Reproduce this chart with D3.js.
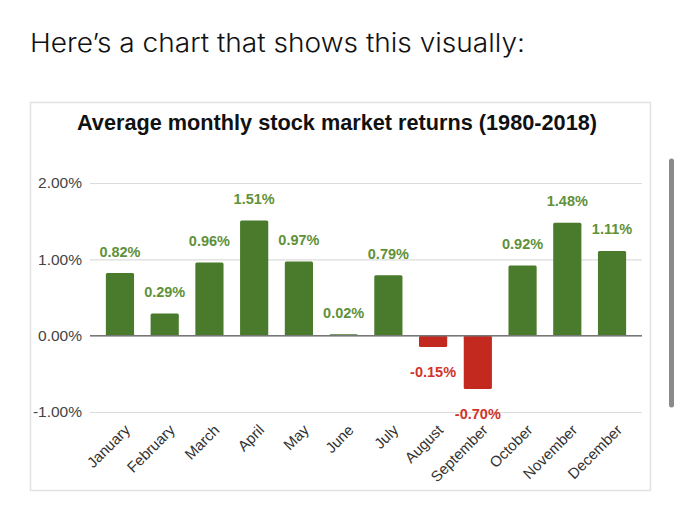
<!DOCTYPE html>
<html><head><meta charset="utf-8">
<script src="https://cdn.jsdelivr.net/npm/d3@7"></script>
<style>html,body{margin:0;padding:0;background:#fff;}svg{display:block;}</style>
</head><body>
<svg id="c" width="680" height="517"></svg>
<script>
const months = ["January","February","March","April","May","June","July","August","September","October","November","December"];
const returns = [0.82,0.29,0.96,1.51,0.97,0.02,0.79,-0.15,-0.70,0.92,1.48,1.11];
const yTicks = [-1,0,1,2];
const headline = "Here\u2019s a chart that shows this visually:";
const title = "Average monthly stock market returns (1980-2018)";
const pct = d => d3.format(".2f")(d).replace("\u2212","-") + "%";
const FONT = "'Liberation Sans', Arial, sans-serif";

const svg = d3.select("#c");
svg.append("text").attr("x",30).attr("y",52).attr("font-family","Inter, 'Open Sans', sans-serif")
  .attr("font-size",26).attr("font-weight",300).attr("fill","#111").attr("textLength",495).attr("lengthAdjust","spacingAndGlyphs").text(headline);

// chart box
svg.append("rect").attr("x",30.5).attr("y",102.5).attr("width",620).attr("height",388)
  .attr("fill","#fff").attr("stroke","#e2e2e2").attr("stroke-width",1.5);
// scrollbar
svg.append("line").attr("x1",671.5).attr("x2",671.5).attr("y1",161).attr("y2",405)
  .attr("stroke","#8a8a8a").attr("stroke-width",5).attr("stroke-linecap","round");

svg.append("text").attr("x",337).attr("y",130).attr("text-anchor","middle")
  .attr("font-family",FONT).attr("font-weight","bold")
  .attr("font-size",21.5).attr("fill","#111").attr("textLength",520).attr("lengthAdjust","spacingAndGlyphs").text(title);

const y = d3.scaleLinear().domain([-1,2]).range([412,183]);
const x = d3.scaleBand().domain(months).range([97.6,634.4]).paddingInner(0.37).paddingOuter(0.185);

const g = svg.append("g");
// gridlines
const yAxis = d3.axisLeft(y).tickValues(yTicks).tickSize(-552).tickFormat(pct);
const ya = g.append("g").attr("transform","translate(90,0)").call(yAxis);
ya.select(".domain").remove();
ya.selectAll(".tick line").attr("stroke","#dcdcdc").attr("stroke-width",1.2);
ya.selectAll(".tick text").attr("x",-8).attr("font-family",FONT)
  .attr("font-size",15.5).attr("fill","#444");

// bars
g.selectAll("rect.bar").data(returns).join("rect").attr("class","bar")
  .attr("x",(d,i)=>x(months[i])).attr("width",x.bandwidth())
  .attr("y",d=>d>=0?y(d):y(0)).attr("height",d=>Math.max(1,Math.abs(y(d)-y(0))))
  .attr("rx",1.5).attr("fill",d=>d>=0?"#4a7a2b":"#c4291f");

// zero line
g.append("line").attr("x1",90).attr("x2",642).attr("y1",y(0)).attr("y2",y(0)).attr("stroke","#777").attr("stroke-width",1.5);

// value labels
g.selectAll("text.val").data(returns).join("text").attr("class","val")
  .attr("x",(d,i)=>x(months[i])+x.bandwidth()/2)
  .attr("y",d=>d>=0?y(d)-16.5:y(d)+30)
  .attr("text-anchor","middle").attr("font-family",FONT)
  .attr("font-weight","bold").attr("font-size",14.5)
  .attr("fill",d=>d>=0?"#5f9139":"#d0342a")
  .text(pct);

// x labels
g.selectAll("text.mon").data(months).join("text").attr("class","mon")
  .attr("transform",d=>`translate(${x(d)+x.bandwidth()/2+11},${431}) rotate(-45)`)
  .attr("text-anchor","end").attr("font-family",FONT)
  .attr("font-size",15).attr("fill","#333").text(d=>d);
</script>
</body></html>
